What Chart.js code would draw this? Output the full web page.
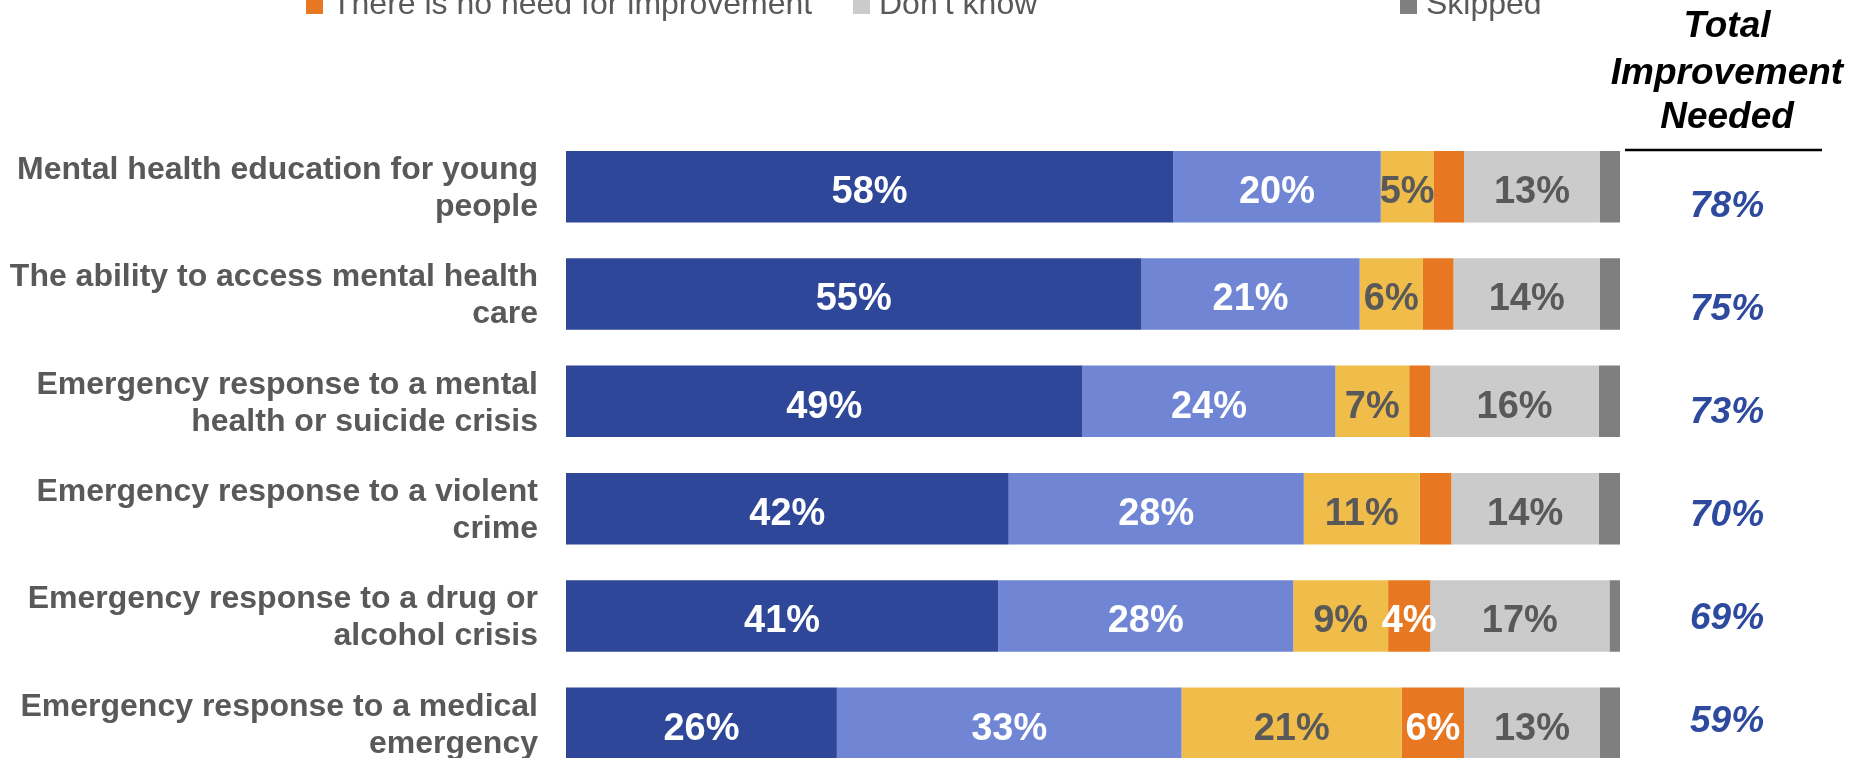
<!DOCTYPE html>
<html><head><meta charset="utf-8">
<script src="https://cdn.jsdelivr.net/npm/chart.js@4.4.1/dist/chart.umd.min.js"></script>
<style>
html,body{margin:0;padding:0;overflow:hidden;background:#fff;width:1855px;height:758px;}
#wrap{position:absolute;left:0;top:0;width:1855px;height:777px;}
</style></head><body>
<div id="wrap"><canvas id="c" width="1855" height="777"></canvas></div>
<script>
// ---- data ----
const categories = [
  ["Mental health education for young", "people"],
  ["The ability to access mental health", "care"],
  ["Emergency response to a mental", "health or suicide crisis"],
  ["Emergency response to a violent", "crime"],
  ["Emergency response to a drug or", "alcohol crisis"],
  ["Emergency response to a medical", "emergency"]
];
const seriesNames = ["Significant improvement needed", "Some improvement needed", "Minor improvement needed",
                     "There is no need for improvement", "Don\u2019t know", "Skipped"];
const significant = [57.6, 54.6, 49.0, 42.0, 41.0, 25.7];
const some        = [19.7, 20.7, 24.0, 28.0, 28.0, 32.7];
const minor       = [5.0, 6.0, 7.0, 11.0, 9.0, 20.9];
const noNeed      = [2.9, 2.9, 2.0, 3.0, 4.0, 5.9];
const dontKnow    = [12.9, 13.9, 16.0, 14.0, 17.0, 12.9];
const skipped     = [1.9, 1.9, 2.0, 2.0, 1.0, 1.9];
const totalNeeded = [78, 75, 73, 70, 69, 59];
const totalHeader = ["Total", "Improvement", "Needed"];

// ---- style ----
const colors = ["#2F4799", "#7086D4", "#F0BD4A", "#E87722", "#CBCBCB", "#7F7F7F"];
const labelColors = ["#FFFFFF", "#FFFFFF", "#595959", "#FFFFFF", "#595959", null];
const minLabel = [0, 0, 0, 3.5, 0, 999];
const FONT = '"Liberation Sans", Arial, Helvetica, sans-serif';
const visibleLegend = [3, 4, 5];

const seriesData = [significant, some, minor, noNeed, dontKnow, skipped];

const annot = {
  id: 'annot',
  afterDatasetsDraw(chart) {
    const ctx = chart.ctx;
    // segment labels
    chart.data.datasets.forEach((ds, di) => {
      if (!labelColors[di]) return;
      const meta = chart.getDatasetMeta(di);
      meta.data.forEach((bar, i) => {
        const v = ds.data[i];
        if (v < minLabel[di]) return;
        ctx.save();
        ctx.font = 'bold 38px ' + FONT;
        ctx.fillStyle = labelColors[di];
        ctx.textAlign = 'center';
        ctx.textBaseline = 'middle';
        ctx.fillText(Math.round(v) + '%', (bar.x + bar.base) / 2, bar.y + 6);
        ctx.restore();
      });
    });
    // totals column
    const ys = chart.scales.y;
    const cx = 1727;
    ctx.save();
    ctx.font = 'italic bold 37px ' + FONT;
    ctx.fillStyle = '#000000';
    ctx.textAlign = 'center';
    ctx.textBaseline = 'alphabetic';
    const hb = [37, 84, 128];
    totalHeader.forEach((t, k) => ctx.fillText(t, cx, hb[k]));
    ctx.strokeStyle = '#000000';
    ctx.lineWidth = 2.5;
    ctx.beginPath(); ctx.moveTo(1625, 150); ctx.lineTo(1822, 150); ctx.stroke();
    ctx.font = 'italic bold 37px ' + FONT;
    ctx.fillStyle = '#2E4A9E';
    ctx.textBaseline = 'middle';
    const y0 = ys.getPixelForValue(0);
    totalNeeded.forEach((v, i) => {
      const y = y0 + 14 + (ys.getPixelForValue(i) - y0) * 0.96;
      ctx.fillText(v + '%', cx, y + 6);
    });
    ctx.restore();
    // legend (visible row)
    ctx.save();
    const lx = [306, 853, 1400];
    ctx.font = '32px ' + FONT;
    ctx.textBaseline = 'alphabetic';
    ctx.textAlign = 'left';
    visibleLegend.forEach((di, k) => {
      ctx.fillStyle = colors[di];
      ctx.fillRect(lx[k], -3, 17, 17);
      ctx.fillStyle = '#595959';
      ctx.fillText(seriesNames[di], lx[k] + 26, 14);
    });
    ctx.restore();
  }
};

new Chart(document.getElementById('c'), {
  type: 'bar',
  data: {
    labels: categories,
    datasets: seriesData.map((d, i) => ({
      label: seriesNames[i],
      data: d,
      backgroundColor: colors[i],
      borderWidth: 0,
      barPercentage: 0.666,
      categoryPercentage: 1
    }))
  },
  options: {
    indexAxis: 'y',
    responsive: false,
    animation: false,
    layout: { padding: { top: 133, right: 235, bottom: 0, left: 0 } },
    plugins: { legend: { display: false }, tooltip: { enabled: false } },
    scales: {
      x: { stacked: true, min: 0, max: 100, display: false },
      y: {
        stacked: true,
        grid: { display: false, drawTicks: false },
        border: { display: false },
        ticks: { color: '#595959', font: { family: FONT, size: 32, weight: 'bold', lineHeight: 1.15 }, padding: 28, labelOffset: 2 },
        afterFit(s) { s.width = 566; s.paddingTop = 0; s.paddingBottom = 0; }
      }
    }
  },
  plugins: [annot]
});
</script>
</body></html>
